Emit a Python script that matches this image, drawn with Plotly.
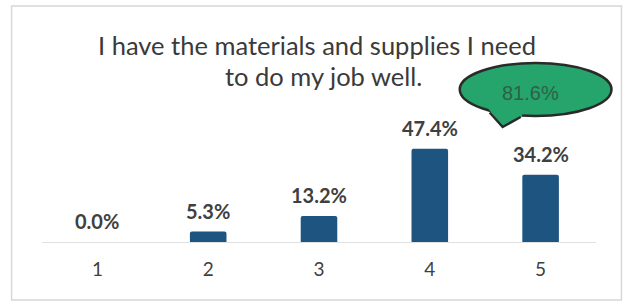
import plotly.graph_objects as go

categories = ["1", "2", "3", "4", "5"]
values = [0.0, 5.3, 13.2, 47.4, 34.2]
value_labels = ["0.0%", "5.3%", "13.2%", "47.4%", "34.2%"]
top_box_label = "81.6%"
title_lines = ["I have the materials and supplies I need", "to do my job well."]

W, H = 630, 308
ML, MR, MT, MB = 41.5, 33.5, 60, 66
PW, PH = W - ML - MR, H - MT - MB
YMAX = 92.4

def px(x):
    return (x - ML) / PW

def py(y):
    return (H - MB - y) / PH

FONT = "Lato, 'Open Sans', sans-serif"
TXT = "#404040"
BAR = "#1d5480"
GREEN = "#25a56c"

fig = go.Figure()
fig.add_trace(go.Bar(
    x=list(range(len(categories))), y=values, width=0.33,
    marker=dict(color=BAR, cornerradius=2, line=dict(width=0)),
    hoverinfo="skip",
))

annotations = []
for i, (v, t) in enumerate(zip(values, value_labels)):
    annotations.append(dict(
        x=i, y=v, xref="x", yref="y", text="<b>%s</b>" % t,
        showarrow=False, yanchor="bottom", yshift=7,
        font=dict(family=FONT, size=20, color=TXT),
    ))

annotations.append(dict(x=px(317), y=py(45), xref="paper", yref="paper",
                        text=title_lines[0], showarrow=False,
                        xanchor="center", yanchor="middle",
                        font=dict(family=FONT, size=25.5, color="#3a3a3a")))
annotations.append(dict(x=px(324), y=py(76), xref="paper", yref="paper",
                        text=title_lines[1], showarrow=False,
                        xanchor="center", yanchor="middle",
                        font=dict(family=FONT, size=25.5, color="#3a3a3a")))
annotations.append(dict(x=px(531), y=py(93), xref="paper", yref="paper",
                        text=top_box_label, showarrow=False,
                        xanchor="center", yanchor="middle",
                        font=dict(family="'Liberation Sans', Arial, sans-serif", size=20, color="#2f6048")))

def path(points, close=True):
    s = "M " + " L ".join("%f,%f" % (px(a), py(b)) for a, b in points)
    return s + (" Z" if close else "")

shapes = [
    dict(type="rect", xref="paper", yref="paper",
         x0=px(11), x1=px(622), y0=py(6), y1=py(300),
         line=dict(color="#d8d8d8", width=1.5), fillcolor="rgba(0,0,0,0)", layer="below"),
    dict(type="circle", xref="paper", yref="paper",
         x0=px(460), x1=px(612), y0=py(63), y1=py(116),
         line=dict(color="#2a2a2a", width=2.5), fillcolor=GREEN, layer="above"),
    dict(type="path", xref="paper", yref="paper",
         path=path([(488, 108), (492, 113), (503, 127), (522, 117), (524, 110)]),
         line=dict(width=0), fillcolor=GREEN, layer="above"),
    dict(type="path", xref="paper", yref="paper",
         path=path([(490, 112.5), (503, 127), (521, 117)], close=False),
         line=dict(color="#2a2a2a", width=2.5), layer="above"),
]

fig.update_layout(
    width=W, height=H,
    margin=dict(l=ML, r=MR, t=MT, b=MB, pad=0, autoexpand=False),
    paper_bgcolor="white", plot_bgcolor="white",
    showlegend=False,
    annotations=annotations,
    shapes=shapes,
    xaxis=dict(
        range=[-0.5, len(categories) - 0.5],
        tickmode="array", tickvals=list(range(len(categories))), ticktext=categories,
        showline=True, linecolor="#e0e0e0", linewidth=1,
        showgrid=False, zeroline=False,
        ticks="outside", ticklen=10, tickcolor="rgba(0,0,0,0)",
        tickfont=dict(family=FONT, size=19, color=TXT),
        fixedrange=True,
    ),
    yaxis=dict(range=[0, YMAX], visible=False, fixedrange=True),
)

fig.write_html("out.html", config={"displayModeBar": False},
               post_script="document.body.style.margin='0';document.body.style.overflow='hidden';")
